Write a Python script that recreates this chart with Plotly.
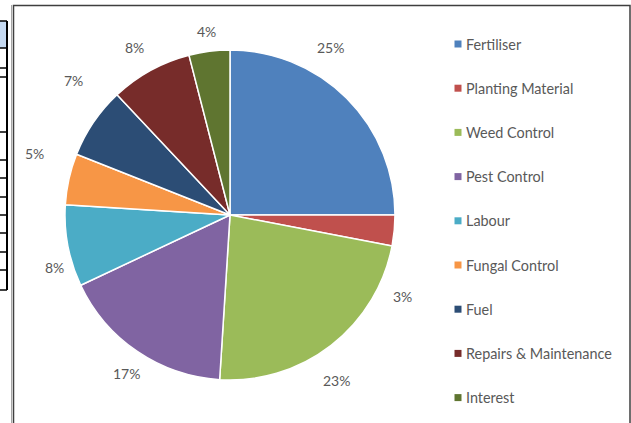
import math
import plotly.graph_objects as go

W, H = 631, 423

categories = ["Fertiliser", "Planting Material", "Weed Control", "Pest Control", "Labour",
              "Fungal Control", "Fuel", "Repairs & Maintenance", "Interest"]
values = [25, 3, 23, 17, 8, 5, 7, 8, 4]
colors = ["#4F81BD", "#C0504D", "#9BBB59", "#8064A2", "#4BACC6",
          "#F79646", "#2C4D75", "#772C2A", "#5F7530"]

FONT = "Lato, 'Open Sans', sans-serif"
TXT = "#595959"

# pie geometry (pixels)
cx, cy, r = 230, 215, 165
# data-label placement (style): radial distance and small angular nudges (deg)
label_r = [195, 191, 197, 189, 183, 205, 206, 193, 185]
label_nudge = [-14, 20, 5, -1, -6, 5, 6.5, -1, 0]

fig = go.Figure()
fig.add_trace(go.Pie(
    labels=categories, values=values, sort=False, direction="clockwise", rotation=0,
    marker=dict(colors=colors, line=dict(color="white", width=1.5)),
    textinfo="none", showlegend=False, hoverinfo="label+percent",
    domain=dict(x=[(cx - r) / W, (cx + r) / W], y=[1 - (cy + r) / H, 1 - (cy - r) / H]),
))

# invisible pixel axes for decorations
fig.add_trace(go.Scatter(x=[0, W], y=[0, H], mode="markers", marker=dict(opacity=0),
                         showlegend=False, hoverinfo="skip"))

shapes = []
annotations = []

# percentage labels, positioned from the data (cumulative share -> angle)
total = sum(values)
cum = 0
for v, rr, nd in zip(values, label_r, label_nudge):
    mid = 360 * (cum + v / 2) / total + nd
    cum += v
    th = math.radians(mid)
    annotations.append(dict(xref="x", yref="y", x=cx + rr * math.sin(th), y=cy - rr * math.cos(th),
                            text=f"{v / total:.0%}", showarrow=False, xanchor="center", yanchor="middle",
                            font=dict(family=FONT, size=14, color=TXT)))

# chart frame
shapes.append(dict(type="rect", xref="x", yref="y", x0=13.5, y0=5.5, x1=630, y1=440,
                   line=dict(color="#3F3F3F", width=1.5), fillcolor="rgba(0,0,0,0)", layer="above"))
shapes.append(dict(type="line", xref="x", yref="y", x0=11.5, y0=5, x1=11.5, y1=440,
                   line=dict(color="#A6A6A6", width=1)))
# table fragment at left
shapes.append(dict(type="rect", xref="x", yref="y", x0=0, y0=21, x1=7, y1=48,
                   fillcolor="#C5D9F1", line=dict(width=0), layer="below"))
row_lines = [21, 48, 68, 77, 132, 160, 178, 197, 215, 233, 252, 270, 290]
for yl in row_lines:
    shapes.append(dict(type="line", xref="x", yref="y", x0=0, y0=yl, x1=7, y1=yl,
                       line=dict(color="#000000", width=1.5)))
shapes.append(dict(type="line", xref="x", yref="y", x0=7, y0=21, x1=7, y1=290,
                   line=dict(color="#000000", width=2)))

# legend
leg_x, leg_top, leg_gap = 458, 44, 44.2
for i, (cat, col) in enumerate(zip(categories, colors)):
    yy = leg_top + i * leg_gap
    shapes.append(dict(type="rect", xref="x", yref="y", x0=leg_x - 3.5, x1=leg_x + 3.5,
                       y0=yy - 3.5, y1=yy + 3.5, fillcolor=col, line=dict(width=0)))
    annotations.append(dict(xref="x", yref="y", x=leg_x + 6, y=yy, text=cat, showarrow=False,
                            xanchor="left", yanchor="middle",
                            font=dict(family=FONT, size=14.4, color=TXT)))

fig.update_layout(
    width=W, height=H, margin=dict(l=0, r=0, t=0, b=0),
    paper_bgcolor="white", plot_bgcolor="rgba(0,0,0,0)",
    xaxis=dict(range=[0, W], visible=False, domain=[0, 1], fixedrange=True),
    yaxis=dict(range=[H, 0], visible=False, domain=[0, 1], fixedrange=True),
    shapes=shapes, annotations=annotations,
)

fig.write_html("out.html")
